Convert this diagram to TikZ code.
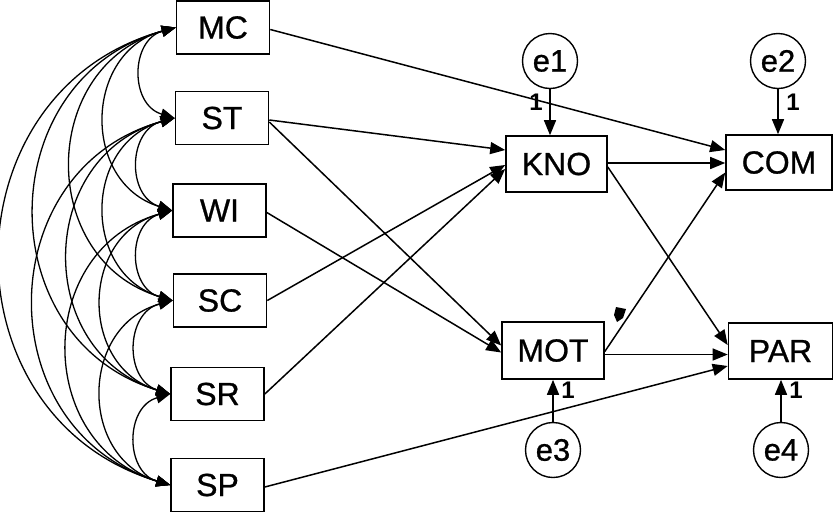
\documentclass[tikz,border=0pt]{standalone}
\usepackage{fontspec}
\setmainfont{Liberation Sans}
\newfontfamily\lblfont{Liberation Sans}[FakeBold=0.8]
\usetikzlibrary{arrows.meta,calc}
\begin{document}
\begin{tikzpicture}[x=1pt,y=1pt,
  var/.style={draw,line width=1.6pt,minimum width=93pt,minimum height=53pt,inner sep=0pt,font=\lblfont\fontsize{32}{34}\selectfont},
  err/.style={draw,circle,line width=1.4pt,minimum size=55pt,inner sep=0pt,font=\lblfont\fontsize{31}{33}\selectfont},
  reg/.style={line width=1.5pt,-{Triangle[length=15pt,width=12pt]}},
  cov/.style={line width=1.3pt,{Triangle[length=14pt,width=11pt]}-{Triangle[length=14pt,width=11pt]},bend right=74,looseness=1.33},
  one/.style={font=\bfseries\fontsize{24}{26}\selectfont,inner sep=0pt}
]
\useasboundingbox (0,0) rectangle (834,-515);
% observed variables
\node[var] (MC) at (223,-27.5) {MC};
\node[var] (ST) at (222,-118) {ST};
\node[var] (WI) at (219.5,-210.5) {WI};
\node[var] (SC) at (220,-300.5) {SC};
\node[var] (SR) at (217.5,-394) {SR};
\node[var] (SP) at (217.5,-485) {SP};
\node[var,minimum width=101pt,minimum height=56pt] (KNO) at (556.5,-164) {KNO};
\node[var,minimum width=106pt,minimum height=55pt] (COM) at (779,-162.5) {COM};
\node[var,minimum width=102pt,minimum height=57pt] (MOT) at (553,-350.5) {MOT};
\node[var,minimum width=104pt,minimum height=56pt] (PAR) at (780.5,-351) {PAR};
% errors
\node[err] (e1) at (550,-61) {e1};
\node[err] (e2) at (778,-61) {e2};
\node[err] (e3) at (553,-450) {e3};
\node[err] (e4) at (781,-450) {e4};
\draw[reg] (e1.south) -- (e1.south |- KNO.north);
\draw[reg] (e2.south) -- (e2.south |- COM.north);
\draw[reg] (e3.north) -- (e3.north |- MOT.south);
\draw[reg] (e4.north) -- (e4.north |- PAR.south);
\node[one] (l1) at (536,-102) {1};
\node[one] (l2) at (793,-102) {1};
\node[one] (l3) at (568,-390) {1};
\node[one] (l4) at (796,-390) {1};
% regression paths
\draw[reg] ($(MC.east)+(0,-2)$) -- ($(COM.west)+(0,12.5)$);
\draw[reg] ($(ST.east)+(0,-2)$) -- ($(KNO.west)+(0,14)$);
\draw[reg] ($(ST.east)+(0,-4)$) -- ($(MOT.west)+(0,5)$);
\draw[reg] ($(WI.east)+(0,-2)$) -- ($(MOT.west)+(0,-2)$);
\draw[reg] (SC.east) -- ($(KNO.west)+(0,-1)$);
\draw[reg] (SR.east) -- ($(KNO.west)+(0,-5)$);
\draw[reg] ($(SP.east)+(0,-2)$) -- ($(PAR.west)+(0,-15)$);
\draw[reg] ($(KNO.east)+(0,1)$) coordinate (k1) -- (k1 -| COM.west);
\draw[reg] ($(KNO.east)+(0,-3)$) -- ($(PAR.west)+(0,6)$);
\draw[reg] ($(MOT.east)+(0,-1)$) -- ($(COM.west)+(0,-10)$);
\draw[reg] ($(MOT.east)+(0,-4)$) coordinate (m1) -- (m1 -| PAR.west);
\fill (616,-307) -- (626,-309) -- (623,-318) -- (617,-322) -- (614,-315) -- cycle;
% covariances
\draw[cov] (MC.west) to (ST.west);
\draw[cov] (MC.west) to (WI.west);
\draw[cov] (MC.west) to (SC.west);
\draw[cov] (MC.west) to (SR.west);
\draw[cov] (MC.west) to (SP.west);
\draw[cov] (ST.west) to (WI.west);
\draw[cov] (ST.west) to (SC.west);
\draw[cov] (ST.west) to (SR.west);
\draw[cov] (ST.west) to (SP.west);
\draw[cov] (WI.west) to (SC.west);
\draw[cov] (WI.west) to (SR.west);
\draw[cov] (WI.west) to (SP.west);
\draw[cov] (SC.west) to (SR.west);
\draw[cov] (SC.west) to (SP.west);
\draw[cov] (SR.west) to (SP.west);
\end{tikzpicture}
\end{document}
